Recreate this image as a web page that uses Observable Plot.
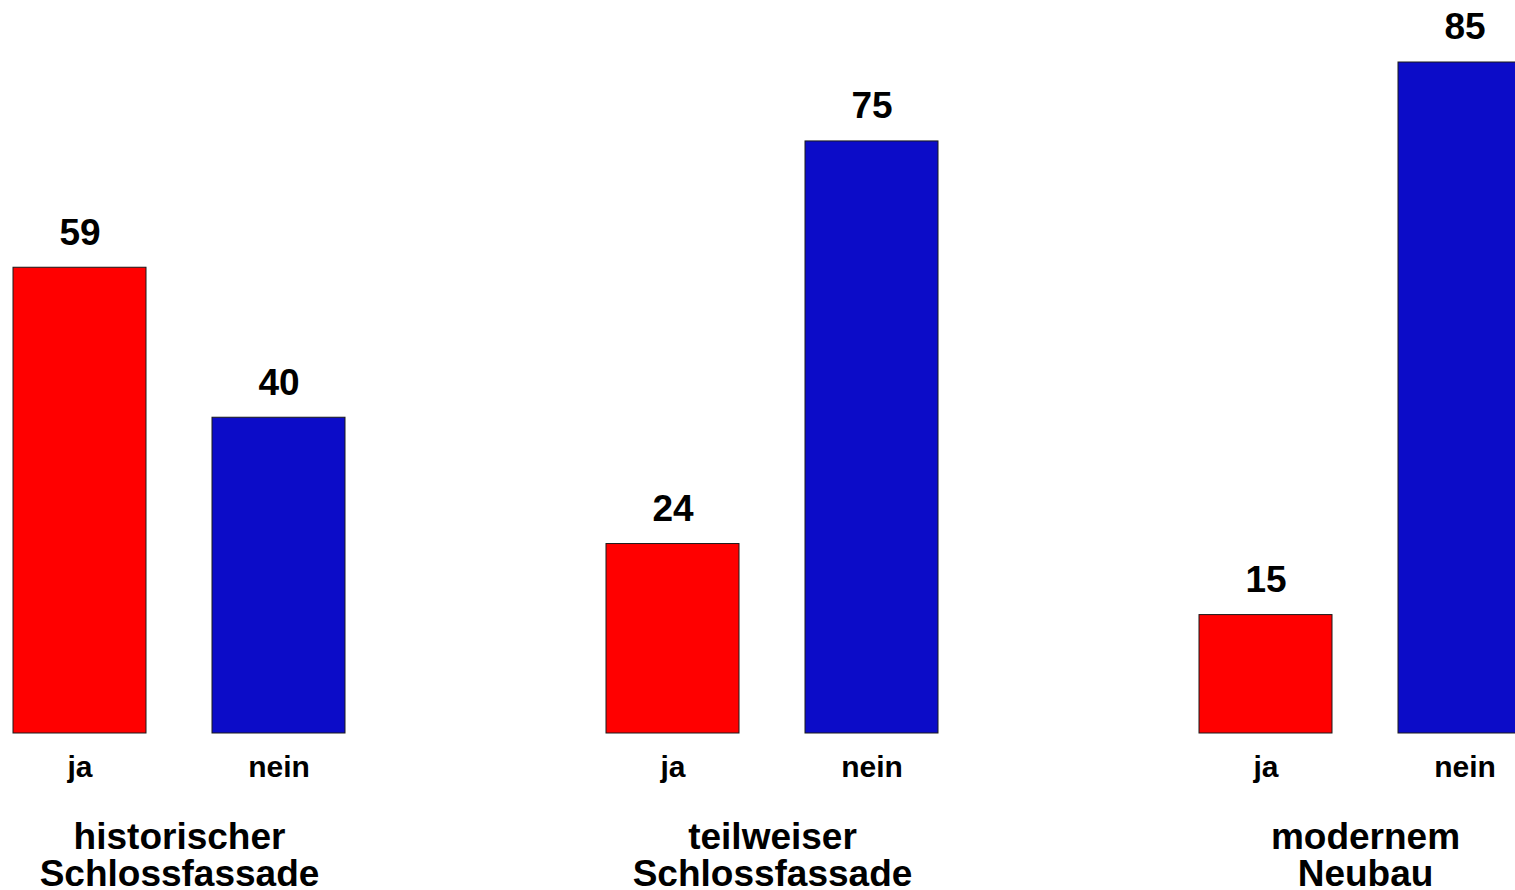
<!DOCTYPE html>
<html>
<head>
<meta charset="utf-8">
<script src="https://cdn.jsdelivr.net/npm/d3@7"></script>
<script src="https://cdn.jsdelivr.net/npm/@observablehq/plot@0.6"></script>
<style>
  html, body { margin: 0; padding: 0; background: #fff; overflow: hidden; }
  #chart svg { overflow: hidden; }
</style>
</head>
<body>
<div id="chart"></div>
<script>
const groups = ["historischer\nSchlossfassade", "teilweiser\nSchlossfassade", "modernem\nNeubau"];
const answers = ["ja", "nein"];
const jaValues = [59, 24, 15];
const neinValues = [40, 75, 85];
const colors = ["#ff0000", "#0c0cc8"];

const data = [];
groups.forEach((g, i) => {
  data.push({group: g, answer: answers[0], value: jaValues[i]});
  data.push({group: g, answer: answers[1], value: neinValues[i]});
});

const font = "'Liberation Sans', Arial, sans-serif";

const chart = Plot.plot({
  width: 1515,
  height: 890,
  marginLeft: 12,
  marginRight: -16,
  marginTop: 62,
  marginBottom: 157,
  style: {fontFamily: font, background: "white", color: "black"},
  fx: {domain: groups, paddingInner: 0.4406, paddingOuter: 0, axis: null},
  x: {domain: answers, paddingInner: 0.332, paddingOuter: 0, axis: null},
  y: {domain: [0, d3.max(neinValues.concat(jaValues))], axis: null},
  color: {domain: answers, range: colors},
  marks: [
    Plot.barY(data, {fx: "group", x: "answer", y: "value", fill: "answer", stroke: "#1a1a1a", strokeWidth: 1}),
    Plot.text(data, {fx: "group", x: "answer", y: "value", text: d => String(d.value), dy: -35, fontSize: 37, fontWeight: "bold", fill: "black"}),
    Plot.axisX({tickSize: 0, tickPadding: 22, fontSize: 30, fontWeight: "bold", fill: "black", label: null}),
    Plot.axisFx({anchor: "bottom", tickSize: 0, tickPadding: 89, fontSize: 37, fontWeight: "bold", lineHeight: 1.0, fill: "black", label: null})
  ]
});
document.getElementById("chart").appendChild(chart);
</script>
</body>
</html>
